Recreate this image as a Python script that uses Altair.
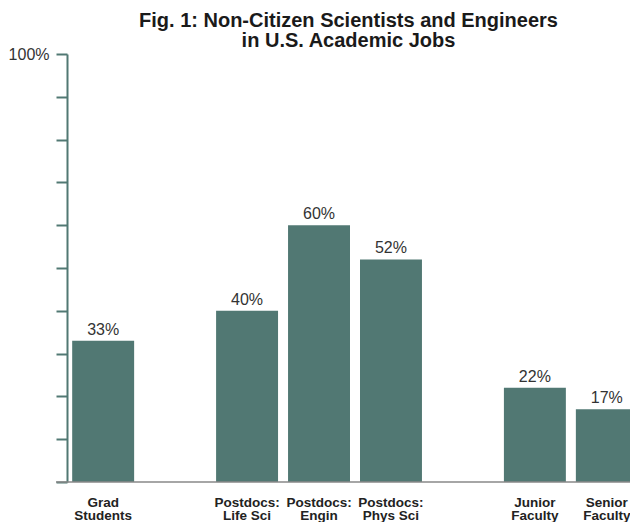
import altair as alt
import pandas as pd

categories = ["Grad Students", "Postdocs: Life Sci", "Postdocs: Engin",
              "Postdocs: Phys Sci", "Junior Faculty", "Senior Faculty"]
values = [33, 40, 60, 52, 22, 17]
x_domain = ["Grad Students", "gap1", "Postdocs: Life Sci", "Postdocs: Engin",
            "Postdocs: Phys Sci", "gap2", "Junior Faculty", "Senior Faculty"]
y_ticks = [0, 10, 20, 30, 40, 50, 60, 70, 80, 90, 100]
title_lines = ["Fig. 1: Non-Citizen Scientists and Engineers", "in U.S. Academic Jobs"]

df = pd.DataFrame({"cat": categories, "val": values})
df["lbl"] = [f"{v}%" for v in values]

FONT = "Liberation Sans"
BAR = "#517873"
TEAL = "#517873"

x_scale = alt.Scale(domain=x_domain, range=[0, 576],
                    paddingInner=0.139, paddingOuter=0.072)

x_enc = alt.X("cat:N", scale=x_scale,
              axis=alt.Axis(title=None, domain=False, ticks=False, labelAngle=0,
                            labelFont=FONT, labelFontSize=13.5, labelFontWeight="bold",
                            labelColor="#222222", labelPadding=13, labelLineHeight=13.5,
                            labelExpr="indexof(datum.value,'gap')==0 ? '' : "
                                      "[slice(datum.value,0,indexof(datum.value,' ')), "
                                      "slice(datum.value,indexof(datum.value,' ')+1)]"))
y_scale = alt.Scale(domain=[0, 100], nice=False)

bars = alt.Chart(df).mark_bar(color=BAR).encode(
    x=x_enc,
    y=alt.Y("val:Q", scale=y_scale,
            axis=alt.Axis(title=None, values=y_ticks, grid=False,
                          domainColor=TEAL, domainWidth=2, tickColor=TEAL,
                          tickWidth=2, tickSize=11, labelPadding=7,
                          labelFont=FONT, labelFontSize=16, labelColor="#333333",
                          labelExpr="datum.value == 100 ? '100%' : ''")),
)

labels = alt.Chart(df).mark_text(font=FONT, fontSize=16, color="#333333",
                                 baseline="alphabetic", dy=-6).encode(
    x=alt.X("cat:N", scale=x_scale),
    y=alt.Y("val:Q", scale=y_scale),
    text="lbl:N",
)

base_rule = alt.Chart(pd.DataFrame({"v": [0]})).mark_rule(color="#888888", strokeWidth=1.5).encode(
    y=alt.Y("v:Q", scale=y_scale),
    x=alt.value(-11),
    x2=alt.value(563),
)

chart = alt.layer(bars, labels, base_rule).properties(
    width=563, height=428,
    padding={"left": 67, "top": 54, "right": 0, "bottom": 40},
    autosize=alt.AutoSizeParams(type="none"),
    title=alt.TitleParams(title_lines, font=FONT, fontSize=20, fontWeight="bold",
                          color="#1a1a1a", anchor="middle", lineHeight=20, offset=3,
                          dy=7.5, limit=0),
).configure_view(stroke=None)

chart.save("out.html", embed_options={"renderer": "svg", "actions": False})
